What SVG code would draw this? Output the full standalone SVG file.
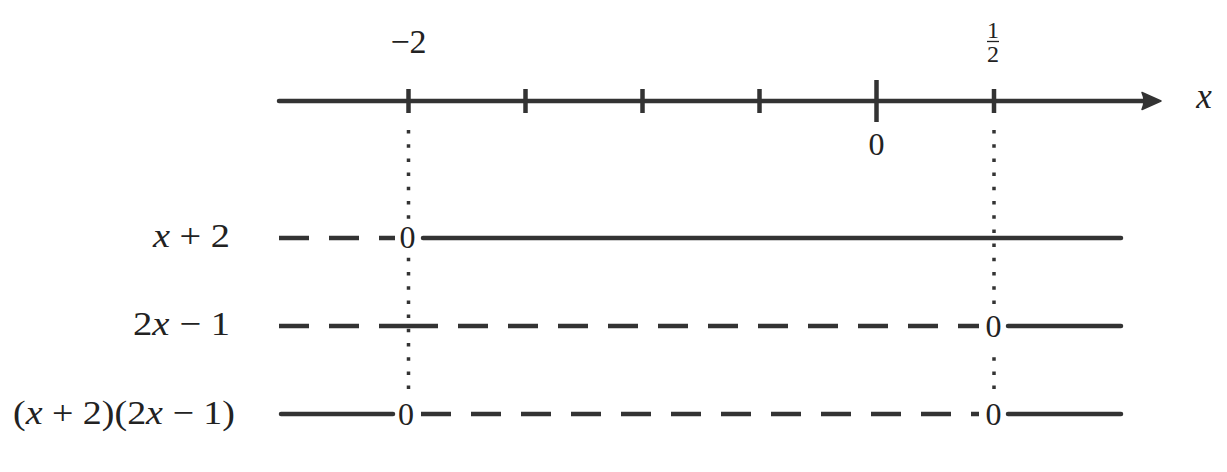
<svg xmlns="http://www.w3.org/2000/svg" width="1227" height="472" viewBox="0 0 1227 472">
<style>
.ln{stroke:#333;stroke-width:4.5;fill:none}
.sol{stroke-linecap:round}
.dsh{stroke-dasharray:30 20}
.dot{stroke:#333;stroke-width:3.5;fill:none;stroke-dasharray:3.5 10.7}
.tk{stroke:#333;stroke-width:4.5}
.t{fill:#222}
.it{font-style:italic}
</style>
<rect width="1227" height="472" fill="#fff"/>
<g font-family="'Liberation Serif', 'DejaVu Serif', 'Times New Roman', serif">
<g id="axis">
<line class="ln sol" x1="279" y1="101" x2="1146" y2="101"/>
<path d="M1142,92.5 L1161,101 L1142,109.5 Q1146,101 1142,92.5 Z" fill="#333" stroke="#333" stroke-width="1.5" stroke-linejoin="round"/>
<line class="tk" x1="408.5" y1="89" x2="408.5" y2="113"/>
<line class="tk" x1="525.5" y1="89" x2="525.5" y2="113"/>
<line class="tk" x1="642.5" y1="89" x2="642.5" y2="113"/>
<line class="tk" x1="759.5" y1="89" x2="759.5" y2="113"/>
<line class="tk" x1="876.5" y1="80" x2="876.5" y2="122"/>
<line class="tk" x1="994" y1="89" x2="994" y2="113"/>
<text class="t it" x="1204" y="108" font-size="35" text-anchor="middle">x</text>
<text class="t" x="408.5" y="53" font-size="34" text-anchor="middle">−2</text>
<text class="t" font-size="24" text-anchor="middle"><tspan x="993" y="38">1</tspan><tspan x="993" y="62">2</tspan></text>
<line x1="987" y1="41.5" x2="999" y2="41.5" stroke="#222" stroke-width="1.3"/>
<text class="t" x="876.5" y="155" font-size="32" text-anchor="middle">0</text>
</g>
<g id="connectors">
<line class="dot" x1="408.5" y1="130" x2="408.5" y2="219"/>
<line class="dot" x1="408.5" y1="257.8" x2="408.5" y2="392"/>
<line class="dot" x1="994" y1="130" x2="994" y2="306"/>
<line class="dot" x1="994" y1="357.2" x2="994" y2="392"/>
</g>
<g id="row-x-plus-2">
<text class="t" x="153" y="247" font-size="34" textLength="77" lengthAdjust="spacingAndGlyphs"><tspan class="it">x</tspan> + 2</text>
<line class="ln dsh" x1="279" y1="238" x2="395" y2="238"/>
<line class="ln sol" x1="423" y1="238" x2="1121" y2="238"/>
<text class="t" x="407.5" y="248" font-size="32" text-anchor="middle">0</text>
</g>
<g id="row-2x-minus-1">
<text class="t" x="133" y="335" font-size="34" textLength="97" lengthAdjust="spacingAndGlyphs">2<tspan class="it">x</tspan> − 1</text>
<line class="ln dsh" x1="279" y1="326" x2="408" y2="326"/>
<line class="ln dsh" x1="408" y1="326" x2="979" y2="326"/>
<line class="ln sol" x1="1008" y1="326" x2="1121" y2="326"/>
<text class="t" x="993.5" y="337" font-size="32" text-anchor="middle">0</text>
</g>
<g id="row-product">
<text class="t" x="13" y="424" font-size="34" textLength="222" lengthAdjust="spacingAndGlyphs">(<tspan class="it">x</tspan> + 2)(2<tspan class="it">x</tspan> − 1)</text>
<line class="ln sol" x1="281" y1="414" x2="393" y2="414"/>
<line class="ln dsh" x1="421" y1="414" x2="979" y2="414"/>
<line class="ln sol" x1="1008" y1="414" x2="1121" y2="414"/>
<text class="t" x="406" y="425" font-size="32" text-anchor="middle">0</text>
<text class="t" x="993.5" y="425" font-size="32" text-anchor="middle">0</text>
</g>
</g>
</svg>
